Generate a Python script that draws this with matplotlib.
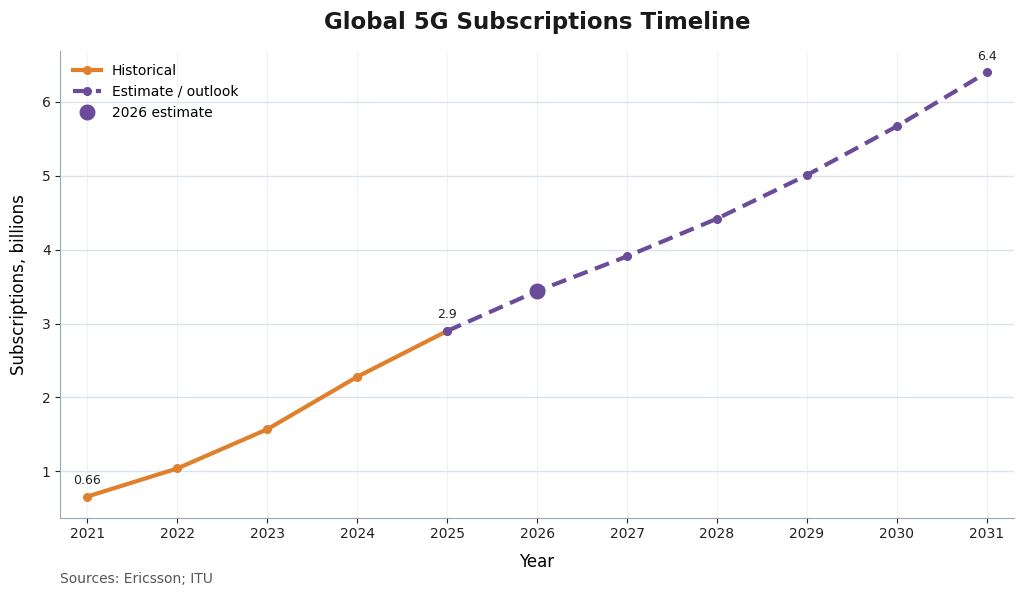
import numpy as np
import matplotlib.pyplot as plt

# data
hist_years = [2021, 2022, 2023, 2024, 2025]
hist_values = [0.66, 1.04, 1.57, 2.28, 2.9]
est_years = [2025, 2026, 2027, 2028, 2029, 2030, 2031]
est_values = [2.9, 3.44, 3.91, 4.42, 5.01, 5.67, 6.4]
highlight_year = 2026
highlight_value = 3.44
labels = {2021: "0.66", 2025: "2.9", 2031: "6.4"}
label_values = {2021: 0.66, 2025: 2.9, 2031: 6.4}

orange = "#E0802C"
purple = "#6B4C9A"

fig, ax = plt.subplots(figsize=(10.24, 6.02), dpi=100)
fig.subplots_adjust(left=0.059, right=0.99, top=0.915, bottom=0.14)

ax.plot(hist_years, hist_values, color=orange, lw=3, marker="o", ms=5.5,
        label="Historical", zorder=3)
ax.plot(est_years, est_values, color=purple, lw=3, ls=(0, (3.6, 1.9)), marker="o", ms=5.5,
        label="Estimate / outlook", zorder=4)
ax.plot([highlight_year], [highlight_value], "o", color=purple, ms=10.5,
        label="2026 estimate", zorder=5, lw=0)

for yr, txt in labels.items():
    ax.annotate(txt, (yr, label_values[yr]), xytext=(0, 7), textcoords="offset points",
                ha="center", va="bottom", fontsize=9, color="#222222")

ax.set_title("Global 5G Subscriptions Timeline", fontsize=16.5, fontweight="bold", pad=16,
             color="#1a1a1a")
ax.set_xlabel("Year", fontsize=12, labelpad=8)
ax.set_ylabel("Subscriptions, billions", fontsize=12, labelpad=10)
ax.set_xticks(range(2021, 2032))
ax.margins(x=0.03)

ax.grid(axis="y", color="#dbe3ee", lw=1)
ax.grid(axis="x", color="#f0f2f6", lw=0.8)
ax.set_axisbelow(True)
for s in ["top", "right"]:
    ax.spines[s].set_visible(False)
for s in ["left", "bottom"]:
    ax.spines[s].set_color("#9aa5b5")
ax.tick_params(labelsize=10, colors="#222222")

ax.legend(loc="upper left", frameon=False, fontsize=10)

fig.text(0.059, 0.032, "Sources: Ericsson; ITU", fontsize=10, color="#555555")

fig.savefig("out.png", dpi=100)
